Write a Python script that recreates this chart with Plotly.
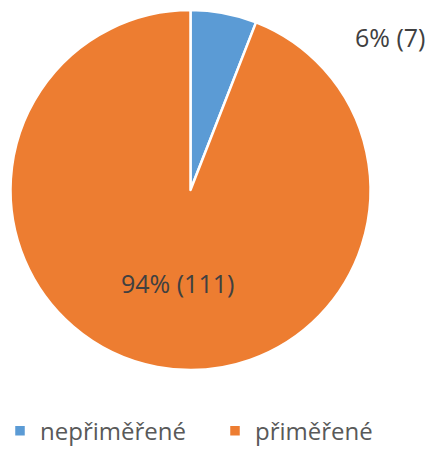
import plotly.graph_objects as go

labels = ["nepřiměřené", "přiměřené"]
values = [7, 111]
colors = ["#5B9BD5", "#ED7D31"]

total = sum(values)
texts = [f"{round(v / total * 100)}% ({v})" for v in values]

fig = go.Figure(go.Pie(
    labels=labels,
    values=values,
    sort=False,
    direction="clockwise",
    rotation=0,
    marker=dict(colors=colors, line=dict(color="white", width=2.5)),
    textinfo="none",
    hoverinfo="label+value+percent",
    domain=dict(x=[10.5 / 432, 370.5 / 432], y=[1 - 370 / 450, 1 - 10 / 450]),
))

label_pos = [(0.903, 0.918), (0.411, 0.371)]
for t, (x, y) in zip(texts, label_pos):
    fig.add_annotation(x=x, y=y, xref="paper", yref="paper", text=t, showarrow=False,
                       xanchor="center", yanchor="middle",
                       font=dict(family="Open Sans", size=25, color="#404040"))

fig.update_layout(
    width=432, height=450,
    margin=dict(l=0, r=0, t=0, b=0, autoexpand=False),
    paper_bgcolor="white",
    font=dict(family="Open Sans", size=24, color="#595959"),
    showlegend=True,
    legend=dict(orientation="h", x=0.0, xanchor="left", y=-0.008, yanchor="bottom",
                font=dict(size=24, color="#595959"), itemwidth=30,
                entrywidth=170, entrywidthmode="pixels"),
)

fig.write_html("out.html", config={"displayModeBar": False},
               post_script="document.body.style.margin='0';")
